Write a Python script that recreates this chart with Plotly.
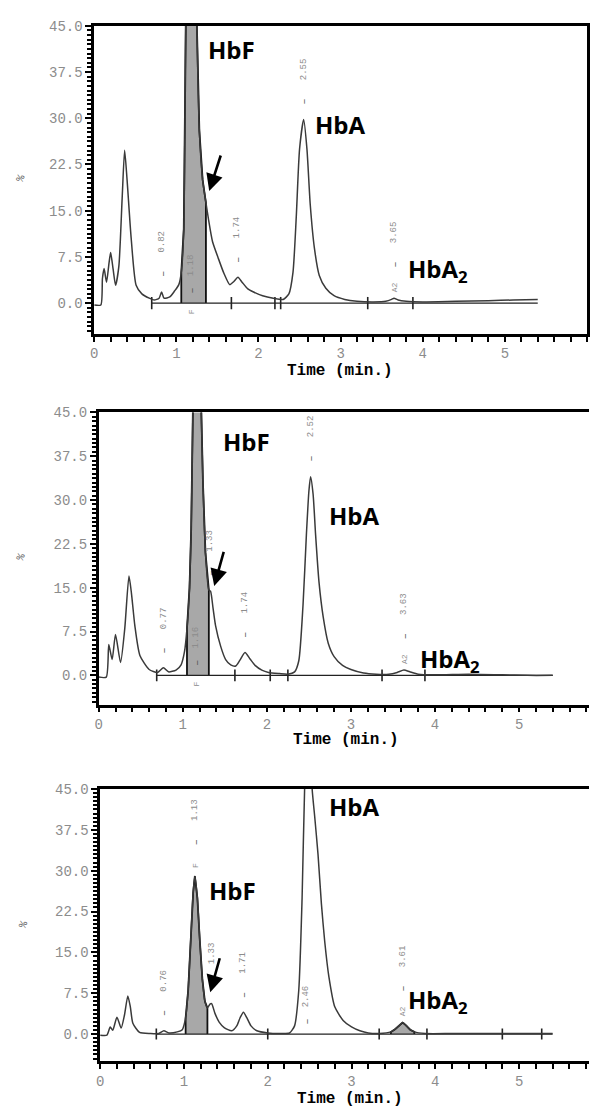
import plotly.graph_objects as go
import numpy as np

# ---------------- data ----------------
# Panel 1
t1 = [0.00, 0.08, 0.10, 0.12, 0.15, 0.18, 0.20, 0.23, 0.26, 0.30, 0.34, 0.37, 0.40, 0.45,
      0.51, 0.58, 0.67, 0.73, 0.79, 0.82, 0.85, 0.92, 0.98, 1.03, 1.06, 1.09, 1.11, 1.13,
      1.18, 1.23, 1.25, 1.28, 1.32, 1.36, 1.39, 1.44, 1.51, 1.58, 1.65, 1.70, 1.75, 1.80,
      1.87, 1.94, 2.05, 2.18, 2.30, 2.37, 2.42, 2.46, 2.50, 2.55, 2.59, 2.63, 2.68, 2.74,
      2.82, 2.92, 3.05, 3.20, 3.40, 3.55, 3.62, 3.65, 3.70, 3.80, 4.00, 4.40, 4.80, 5.10, 5.40]
s1 = [-0.3, -0.3, 4.0, 5.6, 3.4, 6.5, 8.2, 5.5, 2.9, 6.0, 17.0, 24.8, 20.0, 10.5,
      2.9, 1.5, 0.8, 0.5, 0.8, 1.8, 0.8, 1.0, 2.0, 3.0, 5.0, 12.0, 40.0, 65.0,
      95.0, 65.0, 45.0, 28.0, 20.0, 16.3, 13.7, 10.0, 7.3, 4.8, 3.0, 3.5, 4.2, 3.4,
      2.3, 1.8, 1.2, 0.8, 0.6, 1.5, 5.0, 14.0, 25.0, 29.8, 25.0, 16.0, 9.0, 4.5,
      2.4, 1.2, 0.6, 0.3, 0.2, 0.3, 0.6, 0.8, 0.5, 0.3, 0.2, 0.3, 0.4, 0.5, 0.6]
shade1 = [(1.06, 1.36)]
bounds1 = [0.70, 1.67, 2.20, 2.27, 3.33, 3.88]
base1 = [0.70, 5.40]
rt1 = [0.82, 1.18, 1.74, 2.55, 3.65]
apex1 = [1.8, 95.0, 4.2, 29.8, 0.8]
code1 = ["", "F", "", "", "A2"]

# Panel 2
t2 = [0.00, 0.09, 0.12, 0.16, 0.20, 0.26, 0.31, 0.36, 0.39, 0.43, 0.49, 0.60, 0.70, 0.77,
      0.83, 0.92, 0.98, 1.02, 1.05, 1.08, 1.10, 1.12, 1.17, 1.21, 1.24, 1.27, 1.31, 1.33,
      1.36, 1.39, 1.45, 1.51, 1.57, 1.63, 1.68, 1.74, 1.80, 1.86, 1.94, 2.02, 2.15, 2.25,
      2.33, 2.38, 2.43, 2.47, 2.50, 2.52, 2.55, 2.58, 2.62, 2.67, 2.73, 2.80, 2.90, 3.00,
      3.15, 3.30, 3.45, 3.55, 3.63, 3.70, 3.80, 4.00, 4.40, 4.80, 5.10, 5.40]
s2 = [-0.3, -0.3, 5.3, 2.7, 7.0, 2.2, 8.0, 17.0, 14.0, 8.5, 3.4, 1.0, 0.5, 1.3,
      0.6, 0.9, 1.8, 4.0, 8.0, 15.0, 25.0, 45.0, 90.0, 52.0, 33.0, 21.0, 14.6, 14.4,
      11.5, 8.5, 5.0, 2.7, 1.8, 1.6, 2.6, 3.9, 2.8, 1.7, 0.9, 0.5, 0.3, 0.2,
      0.6, 2.5, 12.0, 24.0, 31.5, 34.0, 31.0, 24.0, 16.0, 10.0, 5.5, 3.2, 1.7, 1.0,
      0.4, 0.2, 0.2, 0.5, 0.9, 0.6, 0.2, 0.1, 0.2, 0.1, 0.0, 0.0]
shade2 = [(1.05, 1.31)]
bounds2 = [0.69, 1.62, 2.04, 2.25, 3.37, 3.88]
base2 = [0.69, 5.40]
rt2 = [0.77, 1.16, 1.33, 1.74, 2.52, 3.63]
apex2 = [1.3, 90.0, 14.4, 3.9, 34.0, 0.9]
code2 = ["", "F", "", "", "", "A2"]

# Panel 3
t3 = [0.00, 0.08, 0.12, 0.15, 0.20, 0.25, 0.29, 0.33, 0.36, 0.39, 0.47, 0.60, 0.70, 0.76,
      0.82, 0.92, 0.98, 1.02, 1.05, 1.08, 1.11, 1.13, 1.16, 1.19, 1.22, 1.25, 1.28, 1.31,
      1.33, 1.37, 1.42, 1.48, 1.57, 1.63, 1.67, 1.71, 1.75, 1.80, 1.87, 2.00, 2.15, 2.26,
      2.32, 2.37, 2.41, 2.44, 2.49, 2.53, 2.56, 2.60, 2.64, 2.68, 2.73, 2.80, 2.90, 3.00,
      3.10, 3.20, 3.33, 3.47, 3.52, 3.57, 3.61, 3.65, 3.70, 3.75, 3.88, 4.20, 4.60, 5.00, 5.40]
s3 = [-0.2, -0.2, 1.3, 0.7, 3.1, 1.1, 3.5, 7.0, 5.0, 2.0, 0.3, 0.1, 0.1, 0.6,
      0.2, 0.4, 0.8, 3.0, 8.0, 17.0, 26.0, 29.0, 25.0, 17.0, 10.0, 6.0, 4.8, 5.5,
      5.6, 3.8, 2.2, 1.2, 0.6, 1.5, 3.0, 4.0, 3.0, 1.5, 0.6, 0.2, 0.1, 0.2,
      1.5, 8.0, 25.0, 45.0, 62.0, 45.0, 40.0, 33.0, 24.0, 17.0, 10.5, 5.0, 2.5, 1.3,
      0.6, 0.2, 0.1, 0.4, 0.9, 1.6, 2.1, 1.6, 0.8, 0.4, 0.1, 0.1, 0.1, 0.1, 0.1]
shade3 = [(1.02, 1.28), (3.47, 3.75)]
bounds3 = [0.67, 2.00, 3.33, 3.90, 4.80, 5.27]
base3 = [0.67, 5.40]
rt3 = [0.76, 1.13, 1.33, 1.71, 2.46, 3.61]
apex3 = [0.6, 29.0, 5.6, 4.0, 62.0, 2.1]
code3 = ["", "F", "", "", "", "A2"]

y_ticks = [0.0, 7.5, 15.0, 22.5, 30.0, 37.5, 45.0]
x_ticks = [0, 1, 2, 3, 4, 5, 6]

# ---------------- layout helpers ----------------
W, H = 590, 1106
def px(x):
    return x / W
def py(y):
    return 1 - y / H

YMIN, YMAX = -5, 45
CURVE = "#3a3a3a"
SHADE = "#a8a8a8"
GRAY = "#8c8c8c"
MONO = "Liberation Mono"
SANS = "Open Sans"

panels = [
    dict(t=t1, s=s1, shade=shade1, bounds=bounds1, base=base1, rt=rt1, apex=apex1, code=code1,
         xdom=[px(91), px(588)], xr=[0, 6], ydom=[py(329), py(19)], mirror_y=True),
    dict(t=t2, s=s2, shade=shade2, bounds=bounds2, base=base2, rt=rt2, apex=apex2, code=code2,
         xdom=[px(95.5), 1.0], xr=[0, (590 - 95.5) / 84.8], ydom=[py(702), py(408)], mirror_y=False),
    dict(t=t3, s=s3, shade=shade3, bounds=bounds3, base=base3, rt=rt3, apex=apex3, code=code3,
         xdom=[px(97), 1.0], xr=[0, (590 - 97) / 84.5], ydom=[py(1061), py(787)], mirror_y=False),
]

fig = go.Figure()
annotations = []

for i, p in enumerate(panels):
    n = "" if i == 0 else str(i + 1)
    xa, ya = "x" + n, "y" + n
    t = np.array(p["t"])
    s = np.array(p["s"])

    # shaded peaks
    for a, b in p["shade"]:
        m = (t >= a - 1e-9) & (t <= b + 1e-9)
        xs = [a] + list(t[m]) + [b]
        ys = [0] + list(s[m]) + [0]
        fig.add_trace(go.Scatter(x=xs, y=ys, xaxis=xa, yaxis=ya, mode="lines",
                                 fill="toself", fillcolor=SHADE,
                                 line=dict(color="#111111", width=1.8),
                                 hoverinfo="skip", showlegend=False))

    # integration baseline
    fig.add_trace(go.Scatter(x=p["base"], y=[0, 0], xaxis=xa, yaxis=ya, mode="lines",
                             line=dict(color="#222222", width=1.3),
                             hoverinfo="skip", showlegend=False))
    # boundary ticks
    bx, by = [], []
    for b in p["bounds"]:
        bx += [b, b, None]
        by += [-1.0, 1.0, None]
    fig.add_trace(go.Scatter(x=bx, y=by, xaxis=xa, yaxis=ya, mode="lines",
                             line=dict(color="#222222", width=1.6),
                             hoverinfo="skip", showlegend=False))

    # chromatogram
    fig.add_trace(go.Scatter(x=p["t"], y=p["s"], xaxis=xa, yaxis=ya, mode="lines",
                             line=dict(color=CURVE, width=1.5, shape="spline", smoothing=0.6),
                             hoverinfo="skip", showlegend=False))

    # peak labels
    for rt, ap, code in zip(p["rt"], p["apex"], p["code"]):
        if ap > YMAX:
            yb = 0
            offs = dict(text=38, dash=13, code=-9)
        elif code:
            yb = ap
            offs = dict(text=66, dash=34, code=11)
        else:
            yb = ap
            offs = dict(text=50, dash=18, code=0)
        annotations.append(dict(x=rt, y=yb, xref=xa, yref=ya, text=f"{rt:.2f}",
                                showarrow=False, textangle=-90, yshift=offs["text"],
                                xanchor="center", yanchor="middle",
                                font=dict(family=MONO, size=9, color=GRAY)))
        annotations.append(dict(x=rt, y=yb, xref=xa, yref=ya, text="\u2013",
                                showarrow=False, textangle=-90, yshift=offs["dash"],
                                xanchor="center", yanchor="middle",
                                font=dict(family="DejaVu Sans", size=11, color="#555555")))
        if code:
            annotations.append(dict(x=rt, y=yb, xref=xa, yref=ya, text=code,
                                    showarrow=False, textangle=-90, yshift=offs["code"],
                                    xanchor="center", yanchor="middle",
                                    font=dict(family=MONO, size=8, color=GRAY)))

    axis_common = dict(showgrid=False, zeroline=False, showline=True, linecolor="black",
                       linewidth=2.5, ticks="outside", tickcolor="black", tickwidth=2,
                       tickfont=dict(family=MONO, size=14, color=GRAY))
    fig.update_layout(**{
        "xaxis" + n: dict(domain=p["xdom"], range=p["xr"], anchor=ya, tickvals=x_ticks,
                          ticklen=5, mirror=True,
                          minor=dict(dtick=0.2, tick0=0, ticklen=5, tickwidth=2,
                                     tickcolor="black", ticks="outside"),
                          **axis_common),
        "yaxis" + n: dict(domain=p["ydom"], range=[YMIN, YMAX], anchor=xa, tickvals=y_ticks,
                          tickformat=".1f", ticklen=6, mirror=p["mirror_y"],
                          minor=dict(dtick=0.75, tick0=0, ticklen=4, tickwidth=1.5,
                                     tickcolor="black", ticks="outside"),
                          **axis_common),
    })

# big peak names, arrows, axis titles
names = [
    ("x", "y", "HbF", 1.667, 41.1, "center"),
    ("x", "y", "HbA", 3.00, 29.0, "center"),
    ("x", "y", "HbA<sub>2</sub>", 3.79, 5.3, "left"),
    ("x2", "y2", "HbF", 1.763, 40.1, "center"),
    ("x2", "y2", "HbA", 3.04, 27.4, "center"),
    ("x2", "y2", "HbA<sub>2</sub>", 3.80, 2.7, "left"),
    ("x3", "y3", "HbF", 1.574, 26.3, "center"),
    ("x3", "y3", "HbA", 3.03, 41.8, "center"),
    ("x3", "y3", "HbA<sub>2</sub>", 3.645, 6.0, "left"),
]
for xa, ya, txt, x, y, anc in names:
    annotations.append(dict(x=x, y=y, xref=xa, yref=ya, text=txt, showarrow=False,
                            xanchor=anc, yanchor="middle",
                            font=dict(family=SANS, size=24, color="black", weight="bold")))

arrows = [("x", "y", 1.40, 18.2, 1.546, 24.2),
          ("x2", "y2", 1.374, 15.3, 1.492, 21.4),
          ("x3", "y3", 1.314, 7.7, 1.432, 14.2)]
for xa, ya, hx, hy, tx, ty in arrows:
    annotations.append(dict(x=hx, y=hy, ax=tx, ay=ty, xref=xa, yref=ya, axref=xa, ayref=ya,
                            text="", showarrow=True, arrowhead=2, arrowsize=1.3,
                            arrowwidth=2.6, arrowcolor="black"))

for yc, xc in [(366, 339), (738, 345), (1099, 349)]:
    annotations.append(dict(x=px(xc), y=py(yc), xref="paper", yref="paper", text="<b>Time (min.)</b>",
                            showarrow=False, xanchor="center", yanchor="middle",
                            font=dict(family=MONO, size=16, color="black")))
for yc, xc in [(172, 17), (553, 17), (923, 20)]:
    annotations.append(dict(x=px(xc), y=py(yc), xref="paper", yref="paper", text="%",
                            showarrow=False, textangle=-70, xanchor="center", yanchor="middle",
                            font=dict(family=MONO, size=11, color="#666666")))

fig.update_layout(width=W, height=H, margin=dict(l=0, r=0, t=0, b=0),
                  plot_bgcolor="white", paper_bgcolor="white",
                  annotations=annotations, showlegend=False)

fig.write_html("out.html", config={"displayModeBar": False},
               post_script="document.body.style.margin='0px';document.body.style.padding='0px';"
                           "document.documentElement.style.overflow='hidden';")
